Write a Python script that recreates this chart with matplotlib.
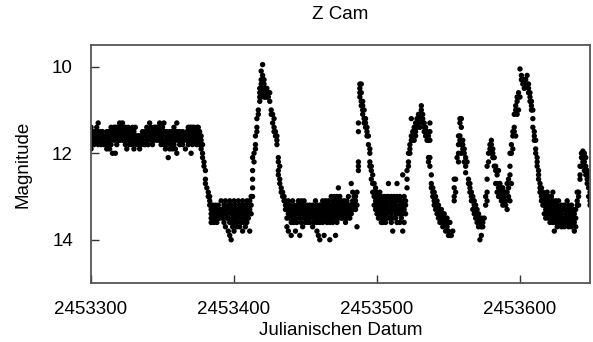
"""Z Cam light curve (visual estimates), JD 2453300 - 2453649."""
import matplotlib
matplotlib.use('Agg')
import matplotlib.pyplot as plt
import numpy as np

plt.rcParams['font.family'] = ['Liberation Sans', 'DejaVu Sans']

# first night of the series; one list of estimates per consecutive night
first_jd = 2453300

# standstill, nights 0-77
standstill = [
    [11.4, 11.6, 11.7, 11.8, 11.9], [11.5, 11.6, 11.7], [11.5, 11.6, 11.8], [11.6, 11.7],
    [11.4, 11.5, 11.7], [11.3, 11.5, 11.6, 11.8], [11.5, 11.6, 11.7], [11.6, 11.7, 11.8],
    [11.5, 11.7], [11.6, 11.8], [11.6, 11.7, 11.8], [11.5, 11.6, 11.7, 11.9],
    [11.5, 11.7, 11.8], [11.6, 11.7, 11.9], [11.4, 11.5, 11.6, 11.8], [11.5, 11.6, 12.0],
    [11.4, 11.5, 11.7], [11.4, 11.6, 12.0], [11.4, 11.5, 11.6, 11.8], [11.4, 11.5, 11.7],
    [11.3, 11.5, 11.6, 11.7], [11.4, 11.5, 11.6], [11.3, 11.4, 11.6, 11.7], [11.4, 11.5, 11.6],
    [11.4, 11.5, 11.7, 11.8], [11.5, 11.6, 11.9], [11.4, 11.6, 11.7], [11.5, 11.6, 11.8],
    [11.5, 11.7], [11.4, 11.6, 11.8], [11.5, 11.7, 11.9], [11.4, 11.6, 11.7],
    [11.6, 11.8], [11.6, 11.7, 11.8], [11.6, 11.8, 11.9], [11.6, 11.7, 11.8],
    [11.5, 11.7], [11.6, 11.8], [11.5, 11.6, 11.8], [11.4, 11.6, 11.7],
    [11.5, 11.6, 11.8], [11.3, 11.5, 11.6], [11.4, 11.6, 11.7], [11.5, 11.6, 11.8],
    [11.4, 11.5, 11.7], [11.4, 11.5, 11.6], [11.4, 11.6, 11.7], [11.4, 11.5, 11.6],
    [11.3, 11.5, 11.7], [11.4, 11.5, 11.6, 11.8], [11.4, 11.6, 11.7], [11.3, 11.5, 11.8],
    [11.5, 11.7, 11.8, 11.9], [11.5, 11.6, 11.8], [11.6, 11.7, 12.1], [11.5, 11.6, 11.9],
    [11.5, 11.7, 11.8], [11.5, 11.6, 11.9], [11.4, 11.6, 11.8], [11.5, 11.6, 11.7, 11.9],
    [11.3, 11.5, 12.0], [11.5, 11.6, 11.7], [11.5, 11.6, 11.8], [11.6, 11.7],
    [11.5, 11.6, 11.8], [11.6, 11.7], [11.6, 11.9], [11.5, 11.6, 11.7],
    [11.4, 11.5, 11.6, 11.8], [11.4, 11.6, 11.7], [11.4, 11.5, 11.7, 12.0], [11.4, 11.5, 11.6, 11.8],
    [11.4, 11.5, 11.6, 11.7], [11.5, 11.6, 11.7], [11.4, 11.6, 11.8], [11.4, 11.5, 11.6, 11.7],
    [11.5, 11.6, 11.7, 11.8], [11.6, 11.7, 11.9],
]

# fade and first quiescence, nights 78-112
quiescence_1 = [
    [11.8, 12.0, 12.1], [12.2, 12.3], [12.4, 12.6, 12.7], [12.8], [12.9, 13.0],
    [13.0, 13.1, 13.2], [13.2, 13.3, 13.4, 13.5, 13.6],
    [13.2, 13.3, 13.4, 13.5], [13.3, 13.4, 13.5, 13.6], [13.2, 13.3, 13.4, 13.5],
    [13.3, 13.4, 13.6], [13.2, 13.3, 13.5], [13.3, 13.4, 13.5], [13.1, 13.3, 13.4],
    [13.3, 13.5], [13.2, 13.4, 13.6], [13.1, 13.3, 13.4, 13.7], [13.3, 13.4, 13.5],
    [13.2, 13.5, 13.8], [13.1, 13.3, 13.6, 13.9], [13.2, 13.4, 13.6, 14.0], [13.3, 13.5, 13.7],
    [13.1, 13.4, 13.6, 13.8], [13.2, 13.3, 13.5], [13.3, 13.4, 13.6, 13.7], [13.1, 13.4, 13.5],
    [13.2, 13.3, 13.5, 13.7], [13.3, 13.4, 13.6], [13.1, 13.2, 13.4, 13.8], [13.3, 13.5, 13.6],
    [13.2, 13.4, 13.5, 13.7], [13.1, 13.3, 13.6], [13.2, 13.4, 13.5], [13.1, 13.3, 13.8],
    [13.0, 13.2, 13.4],
]

# first outburst and second quiescence, nights 113-186
outburst_1 = [
    [12.1, 12.4, 12.6, 12.8, 13.0], [12.0, 12.2], [11.6, 11.8, 11.9], [11.2, 11.4, 11.5],
    [11.0, 11.1], [10.5, 10.6, 10.7, 10.8], [10.1, 10.3, 10.4, 10.7], [9.95, 10.2, 10.3, 10.5, 10.6],
    [10.3, 10.4, 10.5, 10.6, 10.7], [10.5, 10.6, 10.7], [10.5, 10.7], [10.6, 10.7],
    [10.6, 10.8], [11.0, 11.1], [11.1, 11.3], [11.2, 11.4, 11.5],
    [11.5, 11.6], [11.6, 11.7, 11.8], [12.1, 12.2, 12.4, 12.5], [12.3, 12.6, 12.7],
    [12.8, 12.9], [12.9, 13.0], [13.0, 13.1], [13.1, 13.2, 13.3],
    [13.2, 13.3, 13.5, 13.7],
    [13.1, 13.3, 13.4, 13.8], [13.2, 13.3, 13.5], [13.3, 13.4, 13.6, 13.9], [13.1, 13.3, 13.5],
    [13.2, 13.4, 13.6], [13.3, 13.4, 13.5, 13.8], [13.2, 13.3, 13.6], [13.1, 13.3, 13.4],
    [13.2, 13.4, 13.5, 13.9], [13.1, 13.3, 13.6], [13.2, 13.4, 13.7], [13.1, 13.3, 13.5],
    [13.3, 13.4, 13.6], [13.2, 13.5], [13.3, 13.4, 13.6], [13.2, 13.5, 13.6],
    [13.3, 13.4], [13.2, 13.3, 13.5, 13.7], [13.3, 13.4, 13.6], [13.1, 13.3, 13.5],
    [13.2, 13.4, 13.6, 13.8], [13.3, 13.5, 13.9], [13.2, 13.4, 13.6, 14.0], [13.2, 13.3, 13.5],
    [13.1, 13.3, 13.4, 13.6], [13.2, 13.4, 13.5, 13.9], [13.1, 13.3, 13.5], [13.2, 13.4, 13.6],
    [13.1, 13.3, 13.4, 13.5], [13.2, 13.4, 13.6, 14.0], [13.0, 13.2, 13.3, 13.5], [13.1, 13.3, 13.4, 13.6],
    [13.0, 13.2, 13.4, 13.5], [13.1, 13.3, 13.5, 13.9], [13.0, 13.2, 13.4, 13.6], [12.8, 13.1, 13.3, 13.5],
    [13.0, 13.2, 13.4], [13.1, 13.3, 13.5], [13.2, 13.4, 13.5], [13.1, 13.3, 13.4],
    [13.2, 13.4, 13.6], [13.1, 13.3, 13.5], [13.0, 13.2, 13.4], [13.2, 13.3, 13.5],
    [12.7, 13.2, 13.4], [12.9, 13.1, 13.3], [13.0, 13.2], [13.0, 13.1, 13.3],
    [12.9, 13.2, 13.7],
]

# second outburst and short quiescence, nights 187-220
outburst_2 = [
    [11.3, 11.5, 12.2, 12.3, 12.4], [10.4, 10.5, 10.6, 10.7], [10.4, 10.6, 10.8, 10.9],
    [10.8, 10.9, 11.0, 11.1], [11.0, 11.2, 11.3], [11.2, 11.3, 11.4], [11.4, 11.5, 11.6],
    [11.6, 11.8], [11.9, 12.0, 12.2, 12.3], [12.3, 12.4, 12.6], [12.5, 12.7, 12.9],
    [12.7, 12.9, 13.0, 13.2], [12.8, 13.0, 13.1, 13.3],
    [12.9, 13.0, 13.2, 13.4], [13.0, 13.1, 13.3, 13.5], [12.9, 13.1, 13.2, 13.4],
    [13.0, 13.2, 13.3, 13.5, 13.6], [13.1, 13.2, 13.4, 13.6], [13.0, 13.2, 13.3, 13.5],
    [13.1, 13.3, 13.4, 13.6], [13.0, 13.2, 13.4, 13.5], [12.7, 13.0, 13.1, 13.3],
    [13.1, 13.3, 13.5], [13.0, 13.2, 13.4, 13.6], [13.1, 13.3, 13.5, 13.8],
    [13.0, 13.2, 13.3], [13.1, 13.2, 13.4, 13.5], [12.7, 13.0, 13.3, 13.6],
    [13.1, 13.3, 13.4], [13.0, 13.2, 13.4, 13.6], [13.1, 13.3, 13.5],
    [12.5, 13.2, 13.4, 13.8], [13.0, 13.1, 13.3, 13.6], [13.1, 13.2, 13.4],
]

# third outburst, nights 221-253
outburst_3 = [
    [12.4, 12.6, 12.8], [12.0, 12.2, 12.3], [11.8, 11.9, 12.0], [11.2, 11.6, 11.7],
    [11.5, 11.6, 11.7], [11.4, 11.5, 11.7], [11.3, 11.5, 11.6], [11.2, 11.3, 11.4],
    [11.1, 11.2, 11.3], [11.1, 11.2, 11.4], [10.9, 11.0, 11.2], [11.1, 11.2, 11.3],
    [11.3, 11.4, 11.5], [11.4, 11.5, 11.6], [11.5, 11.7], [11.6, 11.7, 12.1, 12.2],
    [11.3, 11.5, 11.7, 12.1, 12.3], [12.5, 12.7, 12.8], [12.8, 12.9, 13.0], [12.9, 13.1, 13.2],
    [13.0, 13.2, 13.3], [13.1, 13.3, 13.4], [13.2, 13.3, 13.5], [13.3, 13.4, 13.6],
    [13.3, 13.5, 13.6], [13.4, 13.5, 13.7], [13.4, 13.6], [13.5, 13.6, 13.8],
    [13.5, 13.7], [13.6, 13.8, 13.9], [13.6, 13.9], [13.9], [13.8],
]

# two small outbursts, nights 254-293
outbursts_4_5 = [
    [12.6, 12.8, 13.0, 13.1], [12.6, 12.9], [12.1], [11.6, 11.8, 12.0, 12.2],
    [11.2, 11.3, 11.6, 11.7], [11.2, 11.4, 11.8, 12.0], [11.7, 11.8, 11.9], [11.9, 12.0, 12.2],
    [12.1, 12.3, 12.45], [12.2], [12.6, 12.7], [12.7, 12.8, 12.9],
    [12.9, 13.0, 13.1], [13.0, 13.1, 13.3], [13.1, 13.2, 13.4], [13.2, 13.3, 13.5],
    [13.3, 13.4, 13.6], [13.4, 13.5, 13.7], [13.5, 13.6, 14.0], [13.5, 13.7, 13.9],
    [13.6, 13.7], [13.5],
    [13.0, 13.2], [12.3, 12.6, 12.9, 13.1], [12.0, 12.2], [11.8, 11.9],
    [11.7, 11.8, 12.0], [11.9, 12.0, 12.1], [12.1, 12.3], [12.3, 12.4, 12.7],
    [12.5, 12.7, 12.9], [12.4, 12.8, 13.0], [12.7, 12.9, 13.0], [12.8, 12.9, 13.1],
    [12.8, 13.0, 13.2], [12.9, 13.0, 13.1], [12.9, 13.1, 13.2], [12.7, 12.9, 13.3],
    [12.6, 12.8, 13.0], [12.0, 12.3, 12.5, 13.1],
]

# last big outburst, quiescence and final rise, nights 294-349
outburst_6 = [
    [11.8, 12.0, 12.7], [11.5, 11.6, 11.9], [11.1, 11.4, 11.5], [10.9, 11.0, 11.6],
    [10.7, 10.8, 11.1], [10.6, 10.7, 11.0], [10.05, 10.7], [10.2, 10.3],
    [10.3, 10.4], [10.3, 10.4, 10.5], [10.3, 10.4], [10.2, 10.4],
    [10.4, 10.5, 10.6], [10.6, 10.7, 10.8], [10.8, 10.9, 11.0], [11.0, 11.2, 11.4],
    [11.5, 11.6, 11.7], [11.7, 11.9, 12.0], [12.1, 12.2, 12.3], [12.4, 12.5, 12.6],
    [12.7, 12.8, 12.9], [12.8, 12.9, 13.0, 13.1], [12.9, 13.0, 13.1, 13.2],
    [13.0, 13.1, 13.2, 13.4], [13.0, 13.1, 13.3, 13.5], [12.9, 13.1, 13.2, 13.4],
    [13.0, 13.2, 13.3, 13.5], [13.1, 13.2, 13.4, 13.6], [13.0, 13.2, 13.3, 13.5],
    [12.9, 13.1, 13.4, 13.6], [13.2, 13.3, 13.5, 13.8], [13.1, 13.3, 13.4, 13.6],
    [13.2, 13.4, 13.5, 13.7], [13.1, 13.3, 13.5, 13.6], [13.3, 13.4, 13.6],
    [13.2, 13.4, 13.5, 13.7], [13.3, 13.5, 13.6], [13.2, 13.3, 13.5, 13.7],
    [13.3, 13.4, 13.6], [13.1, 13.3, 13.5, 13.6], [13.2, 13.4, 13.5, 13.7],
    [13.3, 13.5, 13.6], [13.2, 13.4, 13.5, 13.7], [13.3, 13.5, 13.6],
    [13.4, 13.6, 13.8], [13.3, 13.5, 13.7],
    [12.9, 13.1, 13.2], [12.9, 13.0, 13.2], [12.3, 12.5, 12.6], [12.0, 12.1, 12.3],
    [11.95, 12.1, 12.2], [12.0, 12.2, 12.4], [12.1, 12.3, 12.5], [12.4, 12.6, 12.7],
    [12.5, 12.8, 13.0], [12.9, 13.1, 13.2],
]

x_ticks = [2453300, 2453400, 2453500, 2453600]
y_ticks = [10, 12, 14]


def flatten(nights, start):
    jd, mag = [], []
    for i, night in enumerate(nights):
        for m in night:
            jd.append(start + i)
            mag.append(m)
    return jd, mag


nights = (standstill + quiescence_1 + outburst_1 + outburst_2
          + outburst_3 + outbursts_4_5 + outburst_6)
jd, mag = flatten(nights, first_jd)

fig = plt.figure(figsize=(5.93, 3.42), dpi=100)
ax = fig.add_axes([0.1535, 0.1725, 0.8415, 0.6955])
ax.scatter(jd, mag, s=15, color='black', edgecolors='none')

ax.set_xlim(2453300, 2453649)
ax.set_ylim(15, 9.5)
ax.set_xticks(x_ticks)
ax.set_xticklabels([str(t) for t in x_ticks])
ax.set_yticks(y_ticks)
ax.tick_params(direction='in', length=5.5, width=1, color='#333333',
               labelsize=13.5, pad=13)
ax.tick_params(axis='y', pad=13)
for sp in ax.spines.values():
    sp.set_color('#555555')
    sp.set_linewidth(1.3)

ax.set_title('Z Cam', fontsize=13.5, pad=19)
ax.set_xlabel('Julianischen Datum', fontsize=13.5, labelpad=3)
ax.set_ylabel('Magnitude', fontsize=13.5, labelpad=15)

fig.savefig('out.png', dpi=100)
